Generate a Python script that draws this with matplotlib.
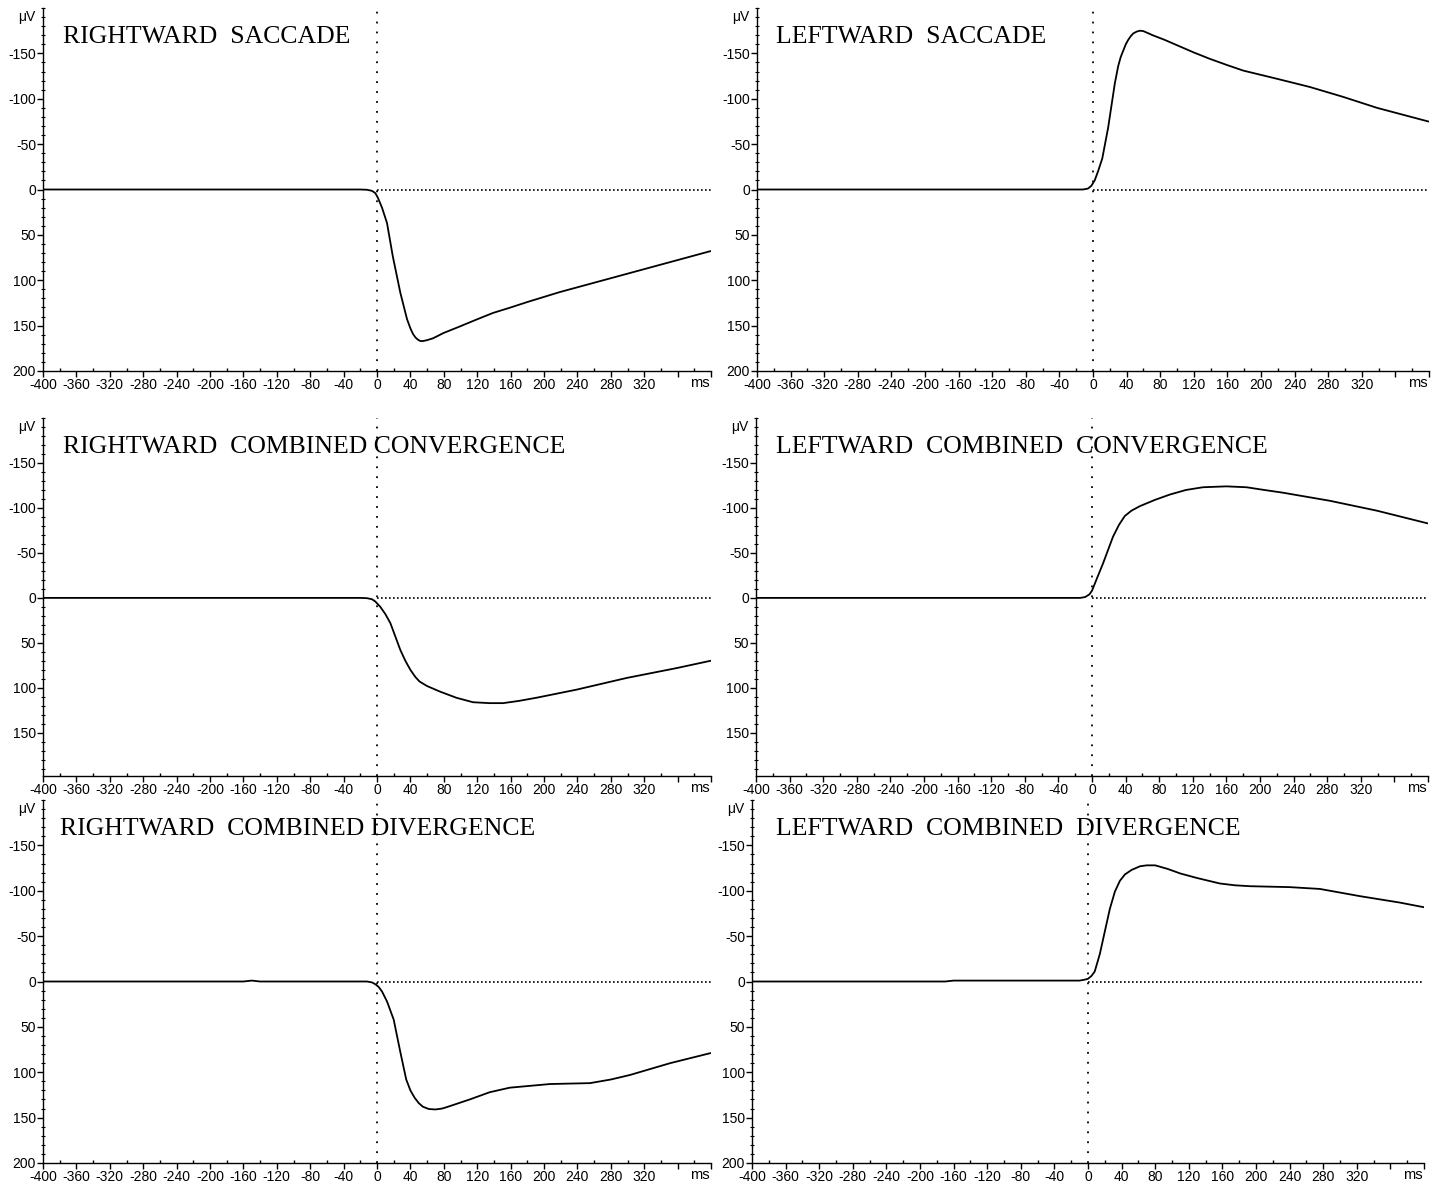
import numpy as np
import matplotlib
matplotlib.use('Agg')
import matplotlib.pyplot as plt
from matplotlib.ticker import MultipleLocator, FixedLocator
import matplotlib.transforms as mtransforms

# sweep values (ms, microvolt; negative = up)
rs_t = [-400, -20, -12, -6, -2, 1, 6, 12, 19, 28, 36, 40, 43, 46, 49, 52, 55, 60, 67, 80, 99, 120, 139, 160, 180, 219, 259, 299, 339, 399]
rs_v = [0, 0, 0.3, 1.5, 4, 9, 20, 37, 74, 114, 143, 153, 159, 163, 165.5, 167, 167, 166, 164, 158, 151, 143, 136, 130, 124, 113, 103, 93, 83, 68]

ls_t = [-400, -12, -6, -2, 2, 6, 11, 18, 26, 30, 33, 36, 39, 42, 45, 48, 52, 56, 60, 65, 71, 85, 100, 120, 139, 160, 179, 219, 258, 298, 338, 399]
ls_v = [0, 0, -1, -4, -10, -20, -34, -68, -117, -136, -146, -153, -160, -165, -169, -172, -174, -175, -174.5, -172.5, -170, -165, -159, -151, -144, -137, -131, -122, -113, -102, -90, -75]

rcc_t = [-400, -20, -12, -6, -2, 4, 10, 16, 22, 28, 34, 40, 46, 51, 60, 75, 95, 115, 135, 151, 170, 191, 239, 299, 359, 399]
rcc_v = [0, 0, 0.3, 1.5, 4, 10, 18, 28, 43, 58, 70, 80, 88, 93, 98, 104, 111, 116, 117, 117, 114.5, 111, 102, 89, 78, 70]

lcc_t = [-400, -14, -8, -3, 0, 6, 13, 19, 25, 32, 39, 47, 57, 75, 93, 112, 132, 160, 184, 205, 227, 283, 339, 399]
lcc_v = [0, 0, -1, -4, -8, -22, -38, -53, -68, -81, -91, -97, -102, -109, -115, -120, -123, -124, -123, -120, -117, -108, -97, -83]

rcd_t = [-400, -160, -150, -140, -12, -6, -2, 2, 6, 12, 20, 28, 35, 40, 45, 50, 55, 62, 70, 78, 85, 98, 111, 135, 159, 183, 207, 230, 255, 280, 303, 351, 399]
rcd_v = [0, 0, -1, 0, 0, 1, 3, 6, 11, 22, 42, 78, 108, 120, 128, 134, 138, 140.5, 141, 140, 138, 134, 130, 122, 117, 115, 113, 112.5, 112, 108, 103, 90, 79]

lcd_t = [-400, -170, -160, -10, -4, 0, 4, 8, 14, 20, 26, 32, 38, 44, 52, 62, 70, 80, 95, 110, 130, 157, 175, 193, 240, 276, 300, 324, 371, 399]
lcd_v = [0, 0, -1, -1, -2, -3, -6, -11, -30, -55, -80, -99, -111, -118, -123, -127, -128, -128, -124, -119, -114, -108, -106, -105, -104, -102, -98, -94, -87, -82]

titles = ['RIGHTWARD  SACCADE', 'LEFTWARD  SACCADE',
          'RIGHTWARD  COMBINED CONVERGENCE', 'LEFTWARD  COMBINED  CONVERGENCE',
          'RIGHTWARD  COMBINED DIVERGENCE', 'LEFTWARD  COMBINED  DIVERGENCE']
series = [(rs_t, rs_v), (ls_t, ls_v), (rcc_t, rcc_v), (lcc_t, lcc_v), (rcd_t, rcd_v), (lcd_t, lcd_v)]

x_ticks = list(range(-400, 401, 40))
x_labels = [str(v) for v in range(-400, 321, 40)] + ['', '']

W, H = 1437, 1183
fig = plt.figure(figsize=(W / 100, H / 100), dpi=100)

# axes boxes in pixels: left, top, right, bottom
boxes = [(43, 8, 711, 371), (757, 8, 1429, 371),
         (43, 418, 711, 776), (756, 418, 1428, 776),
         (43, 800, 711, 1163), (752, 800, 1424, 1163)]
ybots = [200, 200, 198, 198, 200, 200]
title_px = [63, 776, 63, 776, 60, 776]

for i, (t, v) in enumerate(series):
    x0, y0, x1, y1 = boxes[i]
    ybot = ybots[i]
    ax = fig.add_axes([x0 / W, 1 - y1 / H, (x1 - x0) / W, (y1 - y0) / H])

    ax.plot(t, v, color='black', lw=1.3)
    ax.axvline(0, color='black', lw=1.3, ls=(0, (1, 4.5)))
    ax.plot([0, 400], [0, 0], color='black', lw=1.2, ls=(0, (1, 1.4)))

    ax.set_xlim(-400, 400)
    ax.set_ylim(ybot, -200)

    for s in ['top', 'right']:
        ax.spines[s].set_visible(False)
    for s in ['left', 'bottom']:
        ax.spines[s].set_linewidth(1.0)

    ax.xaxis.set_major_locator(FixedLocator(x_ticks))
    ax.set_xticklabels(x_labels, family=['Liberation Sans Narrow', 'Liberation Sans'], fontsize=10)
    ax.xaxis.set_minor_locator(MultipleLocator(20))
    ax.tick_params(axis='x', which='major', direction='out', length=4, width=1, pad=1)
    ax.tick_params(axis='x', which='minor', direction='in', length=2, width=1)

    yt = [-150, -100, -50, 0, 50, 100, 150] + ([200] if ybot >= 200 else [])
    ax.set_yticks(yt)
    ax.set_yticklabels([str(y) for y in yt], family='Liberation Sans', fontsize=10)
    ax.yaxis.set_minor_locator(MultipleLocator(10))
    ax.tick_params(axis='y', which='major', direction='out', length=4, width=1, pad=1)
    ax.tick_params(axis='y', which='minor', direction='inout', length=3, width=0.8)

    ax.text(-0.012, 0.975, 'μV', transform=ax.transAxes, ha='right', va='center',
            family='Liberation Sans', fontsize=10)
    trans = mtransforms.blended_transform_factory(ax.transData, ax.transAxes)
    ax.text(398, -0.015, 'ms', transform=trans, ha='right', va='top',
            family='Liberation Sans', fontsize=10.5)

    ax.text((title_px[i] - x0) / (x1 - x0), 0.92, titles[i], transform=ax.transAxes,
            ha='left', va='center', family='Liberation Serif', fontsize=18.5)

fig.savefig('out.png', dpi=100)
